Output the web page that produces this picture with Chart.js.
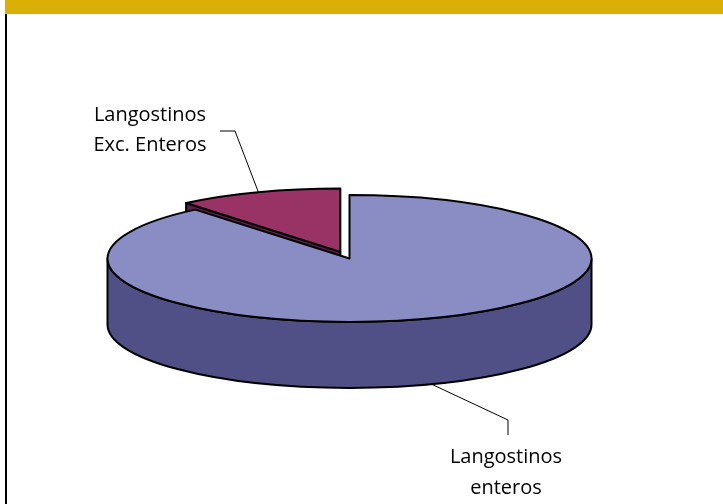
<!DOCTYPE html>
<html><head><meta charset="utf-8">
<script src="https://cdn.jsdelivr.net/npm/chart.js@4.4.1/dist/chart.umd.min.js"></script>
<style>
html,body{margin:0;padding:0;background:#fff;overflow:hidden}
#wrap{position:relative;width:723px;height:504px}
canvas{display:block}
</style></head><body>
<div id="wrap"><canvas id="c" width="723" height="504"></canvas></div>
<script>
// ---- data ----
const categories = ['Langostinos enteros', 'Langostinos Exc. Enteros'];
const labelLines = [['Langostinos', 'enteros'], ['Langostinos', 'Exc. Enteros']];
const shares = [89, 11];

// ---- style ----
const topColors = ['#8A8CC4', '#993366'];
const sideColors = ['#505086', '#5B1F47'];
const explodeDist = [0, 27];
const TILT = 0.262;      // vertical squash of the pie ellipse
const DEPTH = 66;        // pie thickness in px
const FONT = '20px "Open Sans", "Noto Sans", sans-serif';
const labelLayout = [
  {cx: 506, y: 463, gap: 31, elbow: [508, 420], end: [508, 435], anchor: 'bottom'},
  {cx: 150, y: 121, gap: 30, elbow: [235, 131], end: [220, 131], anchor: 'top'}
];

const pie3d = {
  id: 'pie3d',
  beforeDatasetsDraw(chart) {
    const ctx = chart.ctx;
    const meta = chart.getDatasetMeta(0);
    const arcs = meta.data.map((el, i) => {
      const p = el.getProps(['x', 'y', 'startAngle', 'endAngle', 'outerRadius'], true);
      const mid = (p.startAngle + p.endAngle) / 2;
      const D = explodeDist[i] || 0;
      return {el, i, ...p, mid, ox: D * Math.cos(mid), oy: TILT * D * Math.sin(mid)};
    });
    const pt = (a, s, dz) => [s.x + s.ox + s.outerRadius * Math.cos(a),
                              s.y + s.oy + TILT * s.outerRadius * Math.sin(a) + (dz || 0)];
    arcs.sort((a, b) => Math.sin(a.mid) - Math.sin(b.mid));
    ctx.save();
    ctx.lineWidth = 2;
    ctx.lineJoin = 'round';
    ctx.strokeStyle = '#000';
    arcs.forEach(s => {
      const cx = s.x + s.ox, cy = s.y + s.oy;
      const faces = [];
      if (Math.cos(s.startAngle) < -1e-6) faces.push(s.startAngle);
      if (Math.cos(s.endAngle) > 1e-6) faces.push(s.endAngle);
      faces.forEach(a => {
        const p = pt(a, s);
        ctx.beginPath();
        ctx.moveTo(cx, cy);
        ctx.lineTo(p[0], p[1]);
        ctx.lineTo(p[0], p[1] + DEPTH);
        ctx.lineTo(cx, cy + DEPTH);
        ctx.closePath();
        ctx.fillStyle = sideColors[s.i];
        ctx.fill();
        ctx.stroke();
      });
      for (let n = -1; n <= 1; n++) {
        const a0 = Math.max(s.startAngle, 2 * Math.PI * n);
        const a1 = Math.min(s.endAngle, Math.PI + 2 * Math.PI * n);
        if (a1 - a0 <= 1e-6) continue;
        ctx.beginPath();
        ctx.ellipse(cx, cy, s.outerRadius, TILT * s.outerRadius, 0, a0, a1, false);
        ctx.ellipse(cx, cy + DEPTH, s.outerRadius, TILT * s.outerRadius, 0, a1, a0, true);
        ctx.closePath();
        ctx.fillStyle = sideColors[s.i];
        ctx.fill();
        ctx.stroke();
      }
      ctx.save();
      ctx.translate(s.ox, s.oy);
      ctx.translate(s.x, s.y);
      ctx.scale(1, TILT);
      ctx.translate(-s.x, -s.y);
      s.el.draw(ctx);
      ctx.restore();
      ctx.beginPath();
      ctx.moveTo(cx, cy);
      ctx.ellipse(cx, cy, s.outerRadius, TILT * s.outerRadius, 0, s.startAngle, s.endAngle, false);
      ctx.closePath();
      ctx.stroke();
    });
    ctx.lineWidth = 1;
    ctx.font = FONT;
    ctx.fillStyle = '#000';
    ctx.textAlign = 'center';
    ctx.textBaseline = 'alphabetic';
    arcs.forEach(s => {
      const L = labelLayout[s.i];
      const a = pt(s.mid, s, L.anchor === 'bottom' ? DEPTH : 0);
      ctx.beginPath();
      ctx.moveTo(a[0], a[1]);
      ctx.lineTo(L.elbow[0], L.elbow[1]);
      ctx.lineTo(L.end[0], L.end[1]);
      ctx.stroke();
      labelLines[s.i].forEach((t, k) => ctx.fillText(t, L.cx, L.y + k * L.gap));
    });
    ctx.restore();
    return false;
  }
};

const frame = {
  id: 'frame',
  beforeDraw(chart) {
    const ctx = chart.ctx;
    ctx.save();
    ctx.fillStyle = '#fff';
    ctx.fillRect(0, 0, chart.width, chart.height);
    ctx.fillStyle = '#DAB004';
    ctx.fillRect(5, 0, chart.width - 5, 14);
    ctx.fillStyle = '#000';
    ctx.fillRect(5, 14, 2, chart.height - 14);
    ctx.restore();
  }
};

new Chart(document.getElementById('c'), {
  type: 'pie',
  data: {
    labels: categories,
    datasets: [{
      data: shares,
      backgroundColor: topColors,
      borderWidth: 0
    }]
  },
  options: {
    responsive: false,
    animation: false,
    layout: {padding: {left: 107.25, right: 131.25, top: 16.5, bottom: 3.5}},
    plugins: {legend: {display: false}, tooltip: {enabled: false}}
  },
  plugins: [frame, pie3d]
});
</script>
</body></html>
